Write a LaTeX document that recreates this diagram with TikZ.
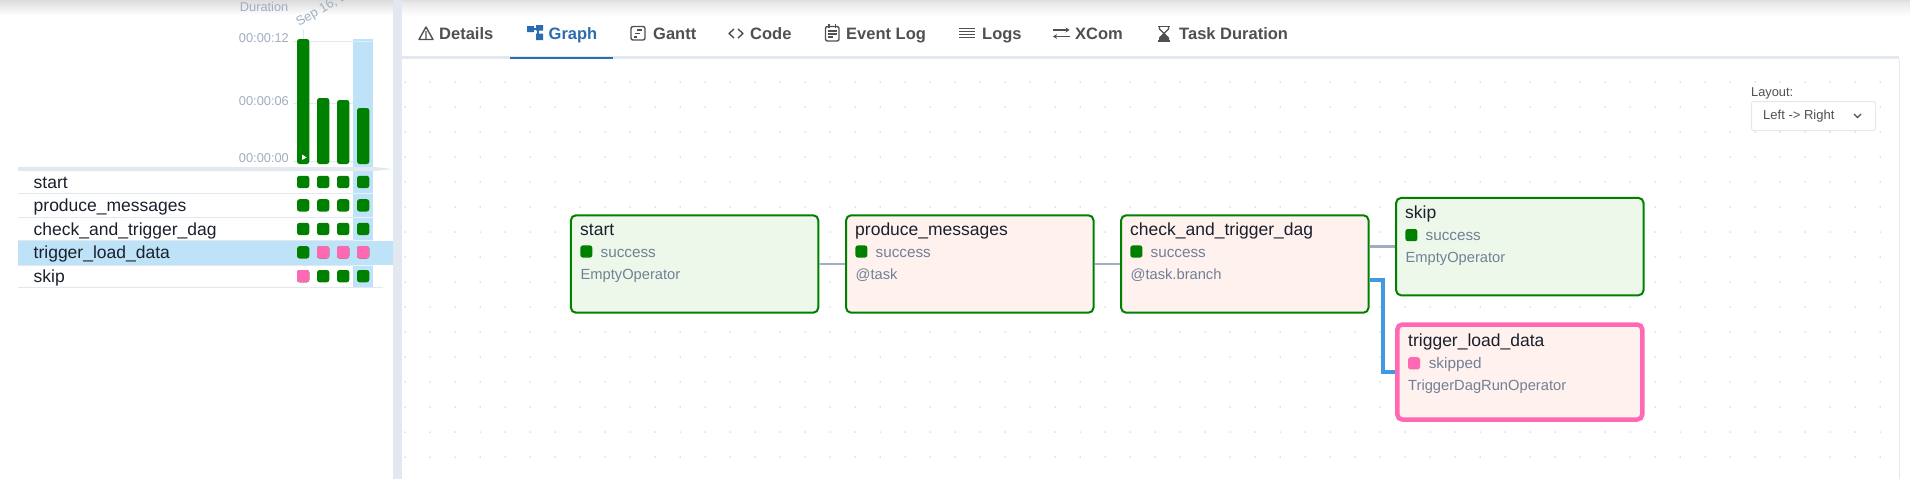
\documentclass[tikz,border=0pt]{standalone}
\usepackage{xcolor}
\usepackage{fontspec}
\setmainfont{Liberation Sans}
\usetikzlibrary{arrows.meta}

\definecolor{stgreen}{HTML}{008000}
\definecolor{stpink}{HTML}{FF69B4}
\definecolor{hilite}{HTML}{BEE3F8}
\definecolor{rule}{HTML}{E2E8F0}
\definecolor{axisgray}{HTML}{A0AEC0}
\definecolor{mutetext}{HTML}{718096}
\definecolor{darktext}{HTML}{1A202C}
\definecolor{tabtext}{HTML}{51504F}
\definecolor{tabblue}{HTML}{2B6CB0}
\definecolor{edgeblue}{HTML}{4299E1}
\definecolor{opgreen}{HTML}{EDF8EA}
\definecolor{oprose}{HTML}{FFF1ED}

\tikzset{
	taskbox/.style={draw=stgreen,line width=2pt,rounded corners=5pt,minimum width=247.4pt,minimum height=97.4pt,inner sep=0pt},
	skipbox/.style={draw=stpink,line width=4.5pt,rounded corners=5pt,minimum width=245pt,minimum height=95pt,inner sep=0pt},
	tasktitle/.style={anchor=base west,inner sep=0pt,text=darktext,font=\fontsize{17.5}{20}\selectfont},
	taskstate/.style={anchor=base west,inner sep=0pt,text=mutetext,font=\fontsize{15.3}{18}\selectfont},
	taskinfo/.style={anchor=base west,inner sep=0pt,text=mutetext,font=\fontsize{14.7}{18}\selectfont},
	axislabel/.style={anchor=base east,inner sep=0pt,text=axisgray,font=\fontsize{12.8}{15}\selectfont},
	tablabel/.style={anchor=base west,inner sep=0pt,text=tabtext,font=\bfseries\fontsize{16.5}{20}\selectfont},
	tabicon/.style={draw=tabtext,line width=1.4pt},
	edgeline/.style={draw=axisgray,line width=2.4pt},
	branchline/.style={draw=edgeblue,line width=3.6pt},
}

\begin{document}
\begin{tikzpicture}[x=1pt,y=-1pt]
	\useasboundingbox (0,0) rectangle (1910,479);

	% page and panels
	\fill[white] (0,0) rectangle (1910,479);
	\shade[top color=black!14,bottom color=white] (0,0) rectangle (393,15);
	\shade[top color=black!9,bottom color=white] (402,2) rectangle (1910,16);
	\fill[black!12] (402,0) rectangle (1910,2);
	\fill[rule] (393,0) rectangle (402,479);
	\fill[rule] (402,56) rectangle (1899,59);
	\fill[rule] (1899,59) rectangle (1900,479);

	% dots of the canvas
	\foreach \dotx in {405,430,...,1880}
		\foreach \doty in {82,107,...,457}
			\fill[black!22] (\dotx,\doty) circle (0.75);

	% tabs
	\fill[tabblue] (510,57) rectangle (613,59);
	\node[tablabel] (details) at (439,39) {Details};
	\node[tablabel,text=tabblue] (graph) at (548.5,39) {Graph};
	\node[tablabel] (gantt) at (653,39) {Gantt};
	\node[tablabel] (code) at (750,39) {Code};
	\node[tablabel] (eventlog) at (846,39) {Event Log};
	\node[tablabel] (logs) at (982,39) {Logs};
	\node[tablabel] (xcom) at (1075,39) {XCom};
	\node[tablabel] (taskduration) at (1179,39) {Task Duration};

	% tab icons
	\draw[tabicon,line join=round] (426,27) -- (433,39.5) -- (419,39.5) -- cycle (426,31) -- (426,39);
	\fill[tabblue] (527,26) rectangle (534,32) (536,25) rectangle (543,30.5) (536,33.5) rectangle (543,40);
	\draw[tabblue,line width=1.5pt] (534,29) -- (539,29) (538,29) -- (538,35);
	\draw[tabicon,rounded corners=2pt] (631,26.5) rectangle (645,40);
	\draw[tabicon,line width=1.2pt] (637,30) -- (642,30) (635,33.5) -- (640,33.5) (634,37) -- (637,37);
	\draw[tabicon,line join=round] (734,29) -- (729,33.5) -- (734,38) (738,29) -- (743,33.5) -- (738,38);
	\draw[tabicon,rounded corners=2pt] (825.5,26.5) rectangle (839,41);
	\draw[tabicon,line width=1.2pt] (829,24) -- (829,28) (835.5,24) -- (835.5,28) (828,31) -- (836.5,31) (828,34) -- (836.5,34) (828,37) -- (833,37);
	\foreach \logy in {28.5,31.5,34.5,37.5}
		\draw[tabicon,line width=1.4pt] (959,\logy) -- (975,\logy);
	\draw[tabicon,line width=1.3pt,-{Stealth[length=4pt,width=5pt]}] (1053,30) -- (1069.5,30);
	\draw[tabicon,line width=1.3pt,-{Stealth[length=4pt,width=5pt]}] (1069.5,36.5) -- (1053,36.5);
	\draw[tabicon,line width=1.6pt] (1158,26.5) -- (1170,26.5) (1158,41) -- (1170,41);
	\draw[tabicon,line width=1.2pt] (1159.5,27) -- (1159.5,29) -- (1164,33.5) -- (1159.5,38) (1168.5,27) -- (1168.5,29) -- (1164,33.5) -- (1168.5,38);
	\fill[tabtext] (1159,41) -- (1159,38) -- (1164,33.5) -- (1169,38) -- (1169,41) -- cycle;

	% duration chart
	\node[anchor=base east,inner sep=0pt,text=axisgray,font=\fontsize{12.8}{15}\selectfont] (duration) at (288.5,12) {Duration};
	\node[anchor=base west,inner sep=0pt,text=axisgray,font=\fontsize{13}{15}\selectfont,rotate=30] (rundate) at (299,27) {Sep 16, 2};
	\draw[rule,line width=1pt] (303,29) -- (303,39);
	\foreach \gridy in {41,103,161}
		\draw[rule,line width=1pt] (293,\gridy) -- (353,\gridy);
	\fill[hilite] (353,39) rectangle (373,287.5);
	\draw[white!40!hilite,line width=1pt] (353,41) -- (373,41);
	\node[axislabel] (maxtime) at (289,42) {00:00:12};
	\node[axislabel] (midtime) at (289,105) {00:00:06};
	\node[axislabel] (zerotime) at (289,162) {00:00:00};
	\foreach \barx/\bartop in {297/39,317/98,337/100,357/108}
		\fill[stgreen,rounded corners=2.5pt] (\barx,\bartop) rectangle (\barx+12.3,164);
	\fill[white] (302,154.5) -- (306.5,157.5) -- (302,160) -- cycle;

	% task rows
	\fill[rule] (18,167) -- (375,167) -- (392,169) -- (375,171) -- (18,171) -- cycle;
	\fill[hilite] (18,240.5) rectangle (393,265);
	\foreach \liney in {193,217,240}
		\draw[rule,line width=1pt] (18,\liney) -- (373,\liney);
	\draw[rule,line width=1pt] (18,265) -- (353,265);
	\draw[rule,line width=1pt] (18,287.5) -- (383,287.5);
	\fill[hilite] (353,171) rectangle (373,287);
	\foreach \liney in {193,217,240,265}
		\draw[white!60!hilite,line width=1pt] (353,\liney) -- (373,\liney);
	\node[tasktitle] (rowstart) at (33.5,188) {start};
	\node[tasktitle] (rowproduce) at (33.5,211.5) {produce\_messages};
	\node[tasktitle] (rowcheck) at (33.5,235) {check\_and\_trigger\_dag};
	\node[tasktitle] (rowtrigger) at (33.5,258.5) {trigger\_load\_data};
	\node[tasktitle] (rowskip) at (33.5,282) {skip};
	\foreach \sqy in {175.8,199.2,222.8,246.2,270}
		\foreach \sqx in {297,317,337,357}
			\fill[stgreen,rounded corners=2.5pt] (\sqx,\sqy) rectangle (\sqx+12.3,\sqy+12.3);
	\foreach \sqx/\sqy in {317/246.2,337/246.2,357/246.2,297/270}
		\fill[stpink,rounded corners=2.5pt] (\sqx,\sqy) rectangle (\sqx+12.3,\sqy+12.3);

	% layout chooser
	\node[anchor=base west,inner sep=0pt,text=tabtext,font=\fontsize{12.8}{15}\selectfont] (layoutlabel) at (1751,96.5) {Layout:};
	\node[draw=rule,fill=white,line width=1pt,rounded corners=2pt,minimum width=124pt,minimum height=29pt,inner sep=0pt] (layoutbox) at (1813.5,116) {};
	\node[anchor=base west,inner sep=0pt,text=tabtext,font=\fontsize{13}{15}\selectfont] (layoutvalue) at (1763,119) {Left -> Right};
	\draw[tabtext,line width=1.3pt] (1854,114) -- (1857.5,117.5) -- (1861,114);

	% task boxes
	\node[taskbox,fill=opgreen] (start) at (694.6,264) {};
	\node[taskbox,fill=oprose] (produce) at (969.8,264) {};
	\node[taskbox,fill=oprose] (check) at (1244.8,264) {};
	\node[taskbox,fill=opgreen] (skip) at (1519.8,246.6) {};
	\node[skipbox,fill=oprose] (trigger) at (1519.8,372) {};

	% connectors
	\draw[edgeline] (start) -- (produce);
	\draw[edgeline] (produce) -- (check);
	\draw[edgeline] (skip.west -| check.east) -- (skip.west);
	\coordinate (branchout) at (check.east |- 0,280);
	\draw[branchline] (branchout) -- ++(13.5,0) |- (trigger.west);

	% texts in the boxes
	\node[tasktitle] (starttitle) at (580,235) {start};
	\fill[stgreen,rounded corners=2.5pt] (580.4,245.4) rectangle (592.4,257.6);
	\node[taskstate] (startstate) at (600.4,257.4) {success};
	\node[taskinfo] (startop) at (580.4,279.3) {EmptyOperator};

	\node[tasktitle] (producetitle) at (855,235) {produce\_messages};
	\fill[stgreen,rounded corners=2.5pt] (855.4,245.4) rectangle (867.4,257.6);
	\node[taskstate] (producestate) at (875.4,257.4) {success};
	\node[taskinfo] (produceop) at (855.4,279.3) {@task};

	\node[tasktitle] (checktitle) at (1130,235) {check\_and\_trigger\_dag};
	\fill[stgreen,rounded corners=2.5pt] (1130.4,245.4) rectangle (1142.4,257.6);
	\node[taskstate] (checkstate) at (1150.4,257.4) {success};
	\node[taskinfo] (checkop) at (1130.4,279.3) {@task.branch};

	\node[tasktitle] (skiptitle) at (1405,218) {skip};
	\fill[stgreen,rounded corners=2.5pt] (1405.4,229) rectangle (1417.4,241.2);
	\node[taskstate] (skipstate) at (1425.4,240.4) {success};
	\node[taskinfo] (skipop) at (1405.4,262.5) {EmptyOperator};

	\node[tasktitle] (triggertitle) at (1408,346) {trigger\_load\_data};
	\fill[stpink,rounded corners=2.5pt] (1408,357.2) rectangle (1420,369.4);
	\node[taskstate] (triggerstate) at (1428.6,368.4) {skipped};
	\node[taskinfo] (triggerop) at (1408,390.3) {TriggerDagRunOperator};
\end{tikzpicture}
\end{document}
